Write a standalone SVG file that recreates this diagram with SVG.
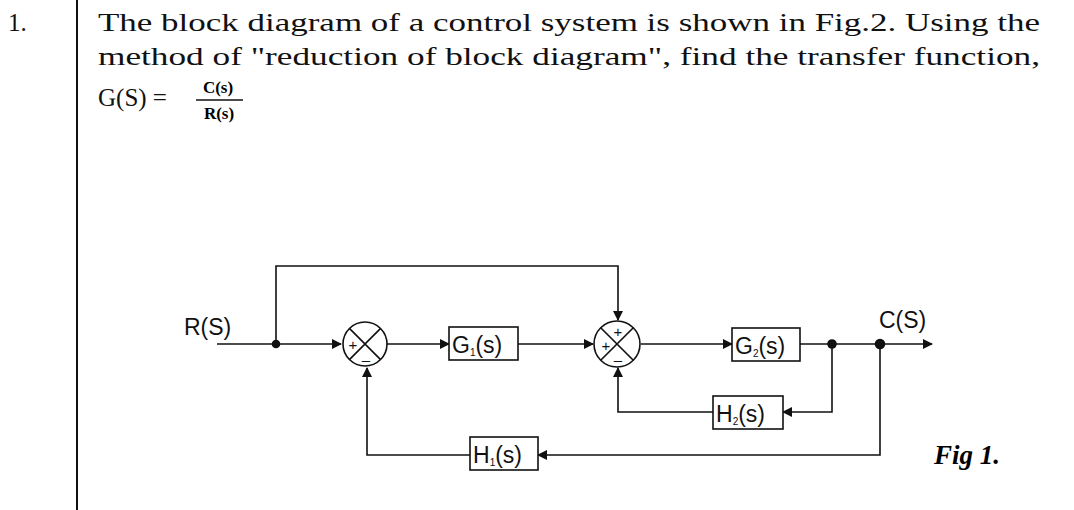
<svg xmlns="http://www.w3.org/2000/svg" width="1074" height="510" viewBox="0 0 1074 510">
<style>
.t{font-family:"Liberation Serif","DejaVu Serif",serif;font-size:25px;fill:#111}
.d{font-family:"Liberation Sans",Arial,sans-serif;font-size:23px;fill:#111}
.w{fill:none;stroke:#111;stroke-width:1.6}
.b{fill:#fff;stroke:#111;stroke-width:1.6}
.s{font-family:"Liberation Sans",Arial,sans-serif;font-size:15px;fill:#111}
.sub{font-size:10px}
</style>
<defs><marker id="a" markerWidth="10" markerHeight="10" refX="9" refY="5" orient="auto" markerUnits="userSpaceOnUse"><path d="M0,0 L10,5 L0,10 Z" fill="#111"/></marker></defs>
<rect width="1074" height="510" fill="#fff"/>
<line x1="77" y1="0" x2="77" y2="510" stroke="#111" stroke-width="2"/>
<text class="t" x="8" y="31">1.</text>
<text class="t" x="98" y="31" textLength="942" lengthAdjust="spacingAndGlyphs">The block diagram of a control system is shown in Fig.2. Using the</text>
<text class="t" x="98" y="65" textLength="942" lengthAdjust="spacingAndGlyphs">method of "reduction of block diagram", find the transfer function,</text>
<text class="t" x="98" y="106">G(S) =</text>
<text x="218" y="93" text-anchor="middle" font-family="Liberation Serif,serif" font-size="17" font-weight="bold">C(s)</text>
<line x1="196" y1="100" x2="243" y2="100" stroke="#111" stroke-width="1.5"/>
<text x="219" y="119" text-anchor="middle" font-family="Liberation Serif,serif" font-size="17" font-weight="bold">R(s)</text>
<g id="connectors" class="w">
<line x1="217" y1="344" x2="341" y2="344" marker-end="url(#a)"/>
<polyline points="276,344 276,266 618,266 618,320" marker-end="url(#a)"/>
<line x1="387" y1="344" x2="449" y2="344" marker-end="url(#a)"/>
<line x1="518" y1="344" x2="593" y2="344" marker-end="url(#a)"/>
<line x1="641" y1="344" x2="732" y2="344" marker-end="url(#a)"/>
<line x1="800" y1="344" x2="932" y2="344" marker-end="url(#a)"/>
<polyline points="832,344 832,412 783,412" marker-end="url(#a)"/>
<polyline points="713,412 618,412 618,368" marker-end="url(#a)"/>
<polyline points="880,344 880,455 538,455" marker-end="url(#a)"/>
<polyline points="470,455 367,455 367,368" marker-end="url(#a)"/>
<circle cx="276" cy="344" r="3.5" fill="#111"/>
<circle cx="832" cy="344" r="4" fill="#111"/>
<circle cx="880" cy="344" r="4.5" fill="#111"/>
</g>
<g id="sum1"><circle class="b" cx="365" cy="344" r="22"/>
<path class="w" d="M349.4,328.4 L380.6,359.6 M380.6,328.4 L349.4,359.6"/>
<text class="s" x="353" y="350" text-anchor="middle">+</text><text class="s" x="366" y="365" text-anchor="middle">–</text></g>
<g id="g1"><rect class="b" x="449" y="327" width="69" height="33"/><text class="d" x="452" y="353">G<tspan class="sub" dy="3">1</tspan><tspan dy="-3">(s)</tspan></text></g>
<g id="sum2"><circle class="b" cx="617" cy="344" r="23"/>
<path class="w" d="M600.7,327.7 L633.3,360.3 M633.3,327.7 L600.7,360.3"/>
<text class="s" x="618" y="337" text-anchor="middle">+</text><text class="s" x="606" y="351" text-anchor="middle">+</text><text class="s" x="618" y="365" text-anchor="middle">–</text></g>
<g id="g2"><rect class="b" x="732" y="328" width="68" height="33"/><text class="d" x="735" y="354">G<tspan class="sub" dy="3">2</tspan><tspan dy="-3">(s)</tspan></text></g>
<g id="h2"><rect class="b" x="713" y="396" width="70" height="33"/><text class="d" x="716" y="422">H<tspan class="sub" dy="3">2</tspan><tspan dy="-3">(s)</tspan></text></g>
<g id="h1"><rect class="b" x="470" y="437" width="68" height="33"/><text class="d" x="473" y="463">H<tspan class="sub" dy="3">1</tspan><tspan dy="-3">(s)</tspan></text></g>
<text class="d" x="184" y="335">R(S)</text>
<text class="d" x="879" y="328">C(S)</text>
<text x="934" y="464" font-family="Liberation Serif,serif" font-size="27" font-weight="bold" font-style="italic">Fig 1.</text>
</svg>
